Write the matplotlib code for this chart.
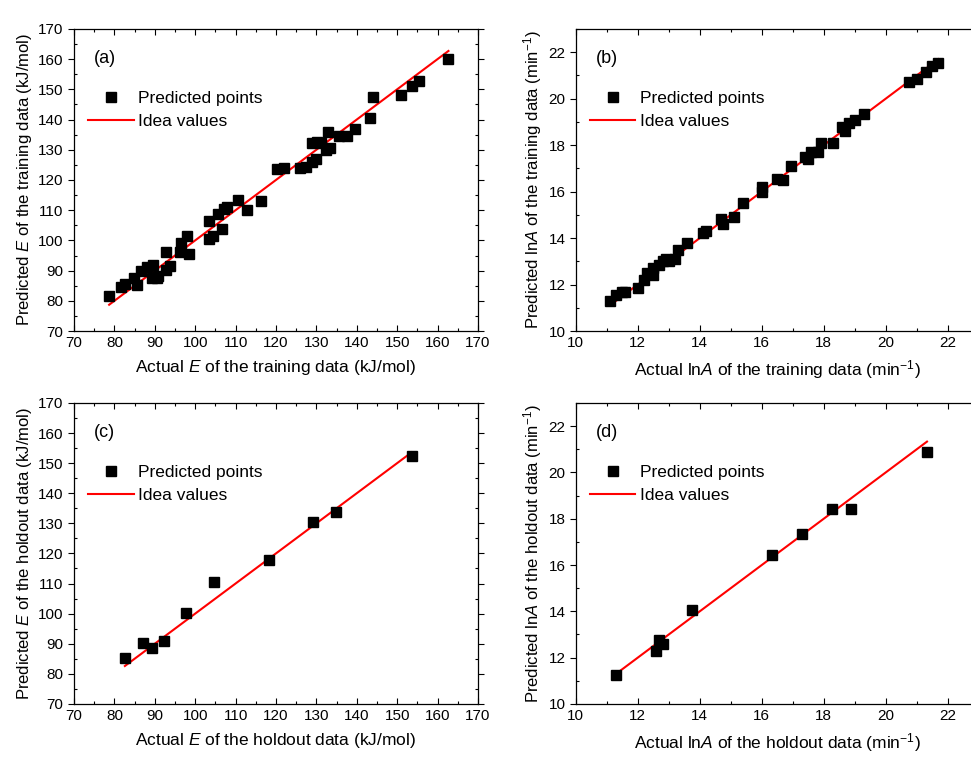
import numpy as np
import matplotlib
matplotlib.use("Agg")
import matplotlib.pyplot as plt
from matplotlib.ticker import MultipleLocator

plt.rcParams['font.family'] = ['Liberation Sans', 'DejaVu Sans']
plt.rcParams['mathtext.fontset'] = 'custom'
plt.rcParams['mathtext.rm'] = 'Liberation Sans'
plt.rcParams['mathtext.it'] = 'Liberation Sans:italic'

# (a) training data, activation energy E (kJ/mol)
train_E_actual = [78.7, 81.6, 82.6, 84.9, 85.7, 86.7, 88.0, 89.6, 89.2, 90.5,
                  90.9, 92.9, 92.9, 93.8, 96.2, 96.4, 98.0, 98.5, 103.3, 103.5,
                  104.3, 105.6, 106.7, 107.1, 108.0, 110.5, 112.9, 116.2, 120.3, 122.1,
                  125.9, 127.4, 128.8, 129.9, 129.0, 130.1, 131.1, 132.4, 133.4, 132.8,
                  135.7, 137.5, 139.6, 143.3, 144.1, 150.9, 153.6, 155.4, 162.7]
train_E_pred = [81.6, 84.7, 85.5, 87.7, 85.1, 90.0, 91.2, 91.8, 87.7, 87.5,
                88.3, 96.0, 90.3, 91.6, 96.1, 99.3, 101.3, 95.5, 106.3, 100.6,
                101.3, 108.9, 103.8, 110.4, 111.1, 113.5, 110.0, 113.2, 123.5, 124.0,
                123.8, 124.4, 125.9, 126.8, 132.1, 132.6, 132.1, 129.8, 130.5, 135.9,
                134.6, 134.6, 136.8, 140.4, 147.5, 148.2, 151.0, 152.6, 160.0]

# (b) training data, lnA (min^-1)
train_A_actual = [11.1, 11.3, 11.5, 11.6, 12.0, 12.2, 12.3, 12.5, 12.5, 12.7,
                  12.8, 12.9, 13.0, 13.2, 13.3, 13.6, 14.1, 14.2, 14.7, 14.75,
                  15.1, 15.4, 16.0, 16.0, 16.5, 16.7, 16.95, 17.4, 17.5, 17.6,
                  17.8, 17.9, 18.3, 18.6, 18.7, 18.8, 19.0, 19.3, 20.75, 21.0,
                  21.3, 21.5, 21.7]
train_A_pred = [11.3, 11.55, 11.7, 11.7, 11.85, 12.2, 12.5, 12.4, 12.7, 12.85,
                13.0, 13.1, 13.0, 13.1, 13.5, 13.8, 14.2, 14.3, 14.8, 14.6,
                14.9, 15.5, 16.2, 16.0, 16.55, 16.5, 17.1, 17.5, 17.4, 17.7,
                17.7, 18.1, 18.1, 18.8, 18.6, 18.95, 19.1, 19.35, 20.7, 20.85,
                21.15, 21.4, 21.55]

# (c) holdout data, E
hold_E_actual = [82.6, 87.2, 89.4, 92.3, 97.7, 104.7, 118.2, 129.2, 134.8, 153.6]
hold_E_pred = [85.4, 90.2, 88.7, 91.0, 100.3, 110.5, 117.7, 130.6, 133.9, 152.4]

# (d) holdout data, lnA
hold_A_actual = [11.3, 12.6, 12.7, 12.8, 13.75, 16.34, 17.3, 18.25, 18.87, 21.33]
hold_A_pred = [11.27, 12.3, 12.75, 12.6, 14.04, 16.44, 17.35, 18.4, 18.42, 20.86]

fig = plt.figure(figsize=(9.71, 7.61), dpi=100)

panels = [
    ([0.0762, 0.565, 0.416, 0.397], train_E_actual, train_E_pred, '(a)', 'E',
     'Actual $\\it{E}$ of the training data (kJ/mol)',
     'Predicted $\\it{E}$ of the training data (kJ/mol)'),
    ([0.593, 0.565, 0.415, 0.397], train_A_actual, train_A_pred, '(b)', 'A',
     'Actual ln$\\it{A}$ of the training data (min$^{-1}$)',
     'Predicted ln$\\it{A}$ of the training data (min$^{-1}$)'),
    ([0.0762, 0.075, 0.416, 0.3955], hold_E_actual, hold_E_pred, '(c)', 'E',
     'Actual $\\it{E}$ of the holdout data (kJ/mol)',
     'Predicted $\\it{E}$ of the holdout data (kJ/mol)'),
    ([0.593, 0.075, 0.415, 0.3955], hold_A_actual, hold_A_pred, '(d)', 'A',
     'Actual ln$\\it{A}$ of the holdout data (min$^{-1}$)',
     'Predicted ln$\\it{A}$ of the holdout data (min$^{-1}$)'),
]

for rect, xa, yp, tag, kind, xlab, ylab in panels:
    ax = fig.add_axes(rect)
    lo, hi = min(xa), max(xa)
    ax.plot(xa, yp, 's', color='black', ms=6.8, label='Predicted points', zorder=3)
    ax.plot([lo, hi], [lo, hi], '-', color='red', lw=1.5, label='Idea values', zorder=2)
    if kind == 'E':
        ax.set_xlim(70, 170)
        ax.set_ylim(70, 170)
        ax.xaxis.set_major_locator(MultipleLocator(10))
        ax.yaxis.set_major_locator(MultipleLocator(10))
        ax.xaxis.set_minor_locator(MultipleLocator(5))
        ax.yaxis.set_minor_locator(MultipleLocator(5))
    else:
        ax.set_xlim(10, 23)
        ax.set_ylim(10, 23)
        ax.xaxis.set_major_locator(MultipleLocator(2))
        ax.yaxis.set_major_locator(MultipleLocator(2))
        ax.xaxis.set_minor_locator(MultipleLocator(1))
        ax.yaxis.set_minor_locator(MultipleLocator(1))
    ax.tick_params(axis='x', which='both', direction='in', top=True, labelsize=11)
    ax.tick_params(axis='y', which='major', direction='out', labelsize=11)
    ax.tick_params(axis='y', which='minor', direction='in')
    ax.tick_params(axis='y', which='both', right=True)
    ax.tick_params(which='major', length=4, width=0.8)
    ax.tick_params(which='minor', length=2.5, width=0.8)
    for s in ax.spines.values():
        s.set_linewidth(0.9)
    ax.set_xlabel(xlab, fontsize=12.5, labelpad=6)
    ax.set_ylabel(ylab, fontsize=12, labelpad=3)
    ax.text(0.05, 0.93, tag, transform=ax.transAxes, fontsize=13, va='top')
    ax.legend(loc='upper left', bbox_to_anchor=(0.01, 0.83), frameon=False,
              fontsize=12.5, handlelength=2.6, handletextpad=0.25,
              labelspacing=0.45, borderaxespad=0.2)

fig.savefig('out.png', dpi=100)
